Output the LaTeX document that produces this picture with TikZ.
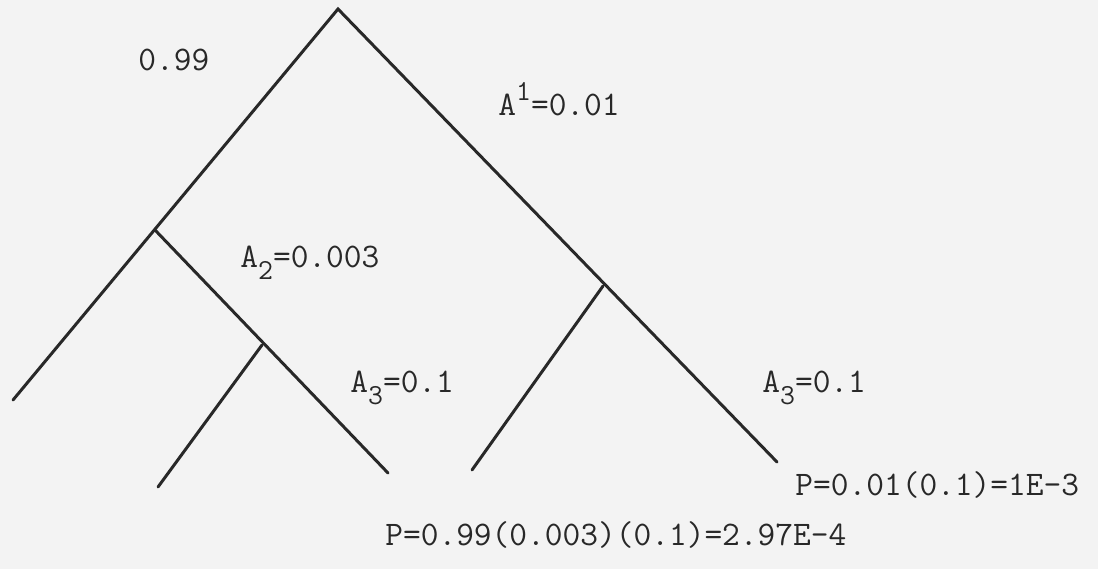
\documentclass[tikz,border=0pt]{standalone}
\usepackage{fontspec}
\usetikzlibrary{positioning}
\definecolor{ink}{RGB}{40,40,40}
\definecolor{paper}{RGB}{243,243,243}
\newcommand{\tsup}[1]{\raisebox{0.42em}{\fontsize{16.5}{18}\selectfont#1}}
\newcommand{\tsub}[1]{\raisebox{-0.36em}{\fontsize{16.5}{18}\selectfont#1}}

\begin{document}
\begin{tikzpicture}[x=0.02cm,y=-0.02cm,
  branch/.style={line width=1.7pt,ink,line cap=round},
  lbl/.style={inner sep=0pt,anchor=base west,text=ink,font=\fontsize{19.6}{21}\selectfont\ttfamily}]
  \fill[paper] (0,0) rectangle (1098,569);
  \useasboundingbox (0,0) rectangle (1098,569);
  % tree points
  \coordinate (top) at (338,9);
  \coordinate (lend) at (13,400);
  \coordinate (lmid) at (155,230);
  \coordinate (lmidend) at (388,473);
  \coordinate (lsub) at (262,345);
  \coordinate (lsubend) at (158,487);
  \coordinate (rend) at (777,462);
  \coordinate (rmid) at (603,286);
  \coordinate (rmidend) at (472,470);
  % branches
  \draw[branch] (lend) -- (top) -- (rend);
  \draw[branch] (lmid) -- (lmidend);
  \draw[branch] (lsub) -- (lsubend);
  \draw[branch] (rmid) -- (rmidend);
  % probabilities
  \node[lbl] (pok) at (138,70) {0.99};
  \node[lbl] (pa1) at (498,115) {A\tsup{1}=0.01};
  \node[lbl] (pa2) at (240,267) {A\tsub{2}=0.003};
  \node[lbl] (pa3l) at (350,392) {A\tsub{3}=0.1};
  \node[lbl] (pa3r) at (762,392) {A\tsub{3}=0.1};
  \node[lbl] (pright) at (795,495) {P=0.01(0.1)=1E-3};
  \node[lbl] (pleft) at (385,545) {P=0.99(0.003)(0.1)=2.97E-4};
\end{tikzpicture}
\end{document}
